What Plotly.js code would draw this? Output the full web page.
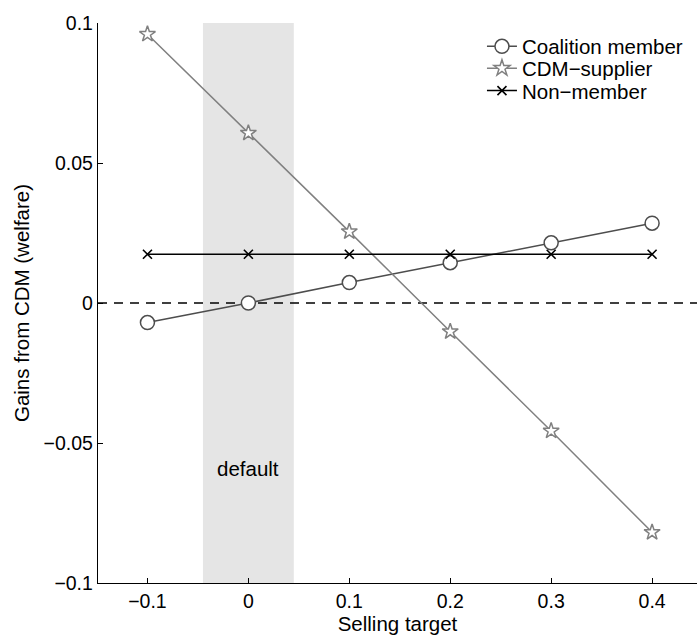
<!DOCTYPE html>
<html>
<head>
<meta charset="utf-8">
<script src="https://cdn.plot.ly/plotly-3.0.1.min.js"></script>
<style>
  html, body { margin: 0; padding: 0; background: #fff; }
  #chart { width: 697px; height: 637px; }
</style>
</head>
<body>
<div id="chart"></div>
<script>
// Selling targets on the horizontal axis
const sellingTarget = [-0.1, 0, 0.1, 0.2, 0.3, 0.4];

// Gains from CDM (welfare) for each group
const coalitionMember = [-0.007, 0, 0.0073, 0.0144, 0.0215, 0.0285];
const cdmSupplier = [0.096, 0.0607, 0.0255, -0.0102, -0.0457, -0.0819];
const nonMember = [0.0174, 0.0174, 0.0174, 0.0174, 0.0174, 0.0174];

// Axis tick labels
const yTickVals = [-0.1, -0.05, 0, 0.05, 0.1];
const yTickText = ['\u22120.1', '\u22120.05', '0', '0.05', '0.1'];
const xTickVals = [-0.1, 0, 0.1, 0.2, 0.3, 0.4];
const xTickText = ['\u22120.1', '0', '0.1', '0.2', '0.3', '0.4'];

// Default selling-target band
const defaultBand = [-0.045, 0.045];

const font = 'Liberation Sans, Arial, Helvetica, sans-serif';

const traces = [
  {
    x: sellingTarget, y: coalitionMember, name: 'Coalition member',
    type: 'scatter', mode: 'lines+markers', legend: 'legend',
    line: { color: '#4d4d4d', width: 1.5 },
    marker: { symbol: 'circle', size: 14, color: '#ffffff', line: { color: '#4d4d4d', width: 1.5 } }
  },
  {
    x: sellingTarget, y: cdmSupplier, name: 'CDM\u2212supplier',
    type: 'scatter', mode: 'lines+markers', legend: 'legend2',
    line: { color: '#808080', width: 1.5 },
    marker: { symbol: 'star', size: 12, color: '#ffffff', line: { color: '#808080', width: 1.5 } }
  },
  {
    x: sellingTarget, y: nonMember, name: 'Non\u2212member',
    type: 'scatter', mode: 'lines+markers', legend: 'legend3',
    line: { color: '#000000', width: 1.5 },
    marker: { symbol: 'x-thin', size: 9, color: '#000000', line: { color: '#000000', width: 1.6 } }
  }
];

// One single-row legend per series, stacked tightly in the upper right
function legendRow(yPaper) {
  return {
    x: 0.641, y: yPaper, xanchor: 'left', yanchor: 'middle',
    bgcolor: 'rgba(255,255,255,0)', borderwidth: 0,
    font: { family: font, size: 20.5, color: '#000000' },
    itemwidth: 30
  };
}

const layout = {
  width: 697, height: 637,
  margin: { l: 98, r: 0, t: 23, b: 54, pad: 0 },
  paper_bgcolor: '#ffffff', plot_bgcolor: '#ffffff',
  font: { family: font, size: 19.5, color: '#000000' },
  showlegend: true,
  legend: legendRow(0.958),
  legend2: legendRow(0.919),
  legend3: legendRow(0.879),
  xaxis: {
    range: [-0.149, 0.4445],
    tickvals: xTickVals, ticktext: xTickText,
    ticks: 'inside', ticklen: 5, tickwidth: 1, tickcolor: '#000',
    showline: true, linecolor: '#000', linewidth: 1.2,
    showgrid: false, zeroline: false, mirror: false,
    tickfont: { family: font, size: 19.5 },
    title: { text: 'Selling target', font: { family: font, size: 20.5 }, standoff: 0 }
  },
  yaxis: {
    range: [-0.1, 0.1],
    tickvals: yTickVals, ticktext: yTickText,
    ticks: 'inside', ticklen: 5, tickwidth: 1, tickcolor: '#000',
    showline: true, linecolor: '#000', linewidth: 1.2,
    showgrid: false, zeroline: false, mirror: false,
    tickfont: { family: font, size: 19.5 },
    title: { text: 'Gains from CDM (welfare)', font: { family: font, size: 20.5 }, standoff: 8 }
  },
  shapes: [
    {
      type: 'rect', xref: 'x', yref: 'paper',
      x0: defaultBand[0], x1: defaultBand[1], y0: 0, y1: 1,
      fillcolor: '#e5e5e5', line: { width: 0 }, layer: 'below'
    },
    {
      type: 'line', xref: 'paper', yref: 'y',
      x0: 0, x1: 1, y0: 0, y1: 0,
      line: { color: '#000', width: 1.3, dash: '9px,7px' }, layer: 'below'
    }
  ],
  annotations: [
    {
      x: 0, y: -0.059, xref: 'x', yref: 'y',
      text: 'default', showarrow: false,
      font: { family: font, size: 20.5, color: '#000' }
    }
  ]
};

Plotly.newPlot('chart', traces, layout, { displayModeBar: false, staticPlot: true });
</script>
</body>
</html>
